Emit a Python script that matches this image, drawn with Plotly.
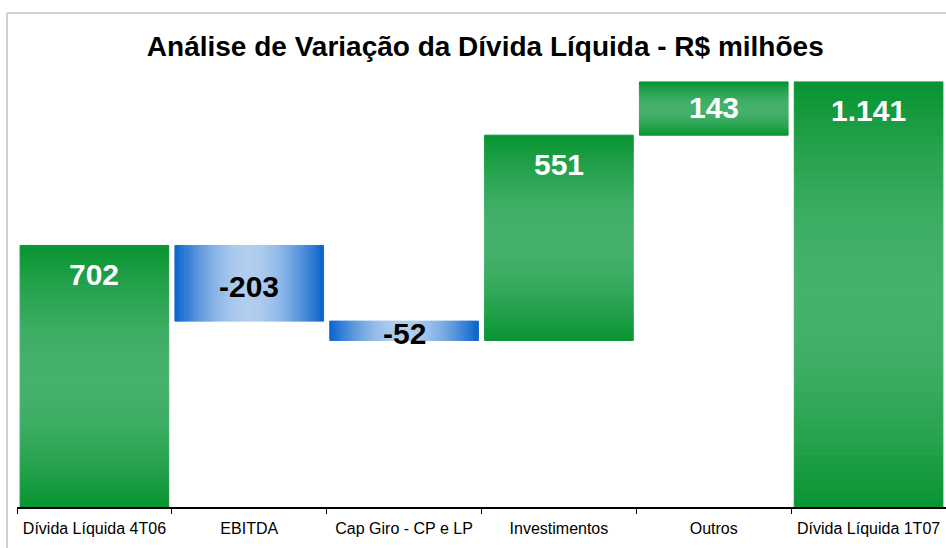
import math
import plotly.graph_objects as go

# dados (R$ milhões)
categorias = ["Dívida Líquida 4T06", "EBITDA", "Cap Giro - CP e LP",
              "Investimentos", "Outros", "Dívida Líquida 1T07"]
valores = [702, -203, -52, 551, 143, 1141]
tipos = ["total", "relative", "relative", "relative", "relative", "total"]
rotulos = ["702", "-203", "-52", "551", "143", "1.141"]

VERDE_ESCURO = (7, 148, 49)
VERDE_CLARO = (69, 177, 107)
AZUL_ESCURO = (10, 98, 204)
AZUL_CLARO = (176, 206, 238)
N = 48          # fatias do degradê
LARGURA = 0.96
YMAX = 1173


def mistura(c1, c2, f):
    return "rgb(%d,%d,%d)" % tuple(round(a + (b - a) * f) for a, b in zip(c1, c2))


def perfil(t):
    # escuro nas pontas, claro no meio
    return math.sin(math.pi * t)


# base e topo de cada barra
bases, topos = [], []
acum = 0
for v, tp in zip(valores, tipos):
    if tp == "total":
        b, t = 0, v
        acum = v
    else:
        b, t = min(acum, acum + v), max(acum, acum + v)
        acum += v
    bases.append(b)
    topos.append(t)

fig = go.Figure()

# barras verdes: degradê vertical (fatias horizontais)
gx, gbase, gy, gcor = [], [], [], []
for cat, v, b, t in zip(categorias, valores, bases, topos):
    if v < 0:
        continue
    h = (t - b) / N
    for i in range(N):
        gx.append(cat)
        gbase.append(b + i * h)
        gy.append(h)
        gcor.append(mistura(VERDE_ESCURO, VERDE_CLARO, perfil((i + 0.5) / N)))
fig.add_trace(go.Bar(x=gx, y=gy, base=gbase, width=LARGURA,
                     marker=dict(color=gcor, line=dict(width=1, color=gcor)),
                     hoverinfo="skip", showlegend=False))

# barras azuis: degradê horizontal (fatias verticais)
bx, bbase, by, boff, bw, bcor = [], [], [], [], [], []
for cat, v, b, t in zip(categorias, valores, bases, topos):
    if v >= 0:
        continue
    w = LARGURA / N
    for i in range(N):
        bx.append(cat)
        bbase.append(b)
        by.append(t - b)
        boff.append(-LARGURA / 2 + i * w)
        bw.append(w)
        bcor.append(mistura(AZUL_ESCURO, AZUL_CLARO, perfil((i + 0.5) / N)))
fig.add_trace(go.Bar(x=bx, y=by, base=bbase, offset=boff, width=bw,
                     marker=dict(color=bcor, line=dict(width=1, color=bcor)),
                     hoverinfo="skip", showlegend=False))

# rótulos de dados
px_por_unidade = 437 / YMAX
for cat, v, b, t, txt in zip(categorias, valores, bases, topos, rotulos):
    if v >= 0:
        meia = (t - b) * px_por_unidade / 2
        fig.add_annotation(x=cat, y=t, text="<b>%s</b>" % txt, showarrow=False,
                           yanchor="middle", yshift=-min(30, meia) + 1,
                           font=dict(size=30, color="white"))
    else:
        fig.add_annotation(x=cat, y=(b + t) / 2, text="<b>%s</b>" % txt, showarrow=False,
                           yanchor="middle", yshift=-3,
                           font=dict(size=30, color="black"))

# moldura cinza
fig.add_shape(type="line", xref="paper", yref="paper",
              x0=-10 / 929, x1=-10 / 929, y0=494 / 437, y1=-0.2,
              line=dict(color="#CFCFCF", width=2))
fig.add_shape(type="line", xref="paper", yref="paper",
              x0=-10 / 929, x1=1.05, y0=494 / 437, y1=494 / 437,
              line=dict(color="#CFCFCF", width=2))

fig.update_layout(
    width=946, height=548,
    margin=dict(l=17, r=0, t=70, b=41),
    paper_bgcolor="white", plot_bgcolor="white",
    barmode="overlay", bargap=0.04,
    font=dict(family="Liberation Sans, Arial, sans-serif", color="black"),
    title=dict(text="<b>Análise de Variação da Dívida Líquida - R$ milhões</b>",
               x=0.513, xanchor="center", y=0.915, yanchor="middle",
               font=dict(size=28, color="black")),
    xaxis=dict(type="category", categoryorder="array", categoryarray=categorias,
               showline=True, linecolor="black", linewidth=1.5,
               ticks="outside", tickson="boundaries", ticklen=5, tickcolor="black",
               ticklabelstandoff=6,
               tickfont=dict(size=16, color="black"), showgrid=False, zeroline=False,
               fixedrange=True),
    yaxis=dict(range=[0, YMAX], visible=False, fixedrange=True),
)

fig.write_html("out.html", config={"displayModeBar": False},
               post_script="document.body.style.margin='0';")
